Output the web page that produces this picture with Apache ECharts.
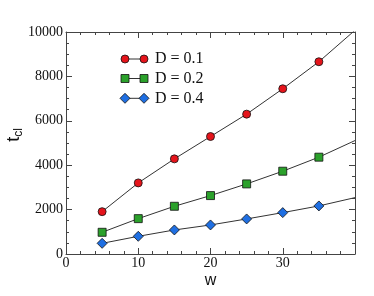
<!DOCTYPE html>
<html><head><meta charset="utf-8">
<script src="https://cdn.jsdelivr.net/npm/echarts@6/dist/echarts.min.js"></script>
<style>html,body{margin:0;padding:0;background:#fff}#c{width:374px;height:296px}</style>
</head><body><div id="c"></div>
<script>
const wValues = [5, 10, 15, 20, 25, 30, 35];
const wEnd = 40;
const seriesNames = ['D = 0.1', 'D = 0.2', 'D = 0.4'];
const tD01 = [1908, 3203, 4285, 5292, 6300, 7443, 8660];
const tD02 = [978, 1593, 2150, 2631, 3158, 3729, 4361];
const tD04 = [481, 797, 1083, 1308, 1579, 1864, 2165];
const endValues = [10080, 5110, 2540];
const xTicks = [0, 10, 20, 30];
const yTicks = [0, 2000, 4000, 6000, 8000, 10000];

const colors = ['#e5141b', '#2ba12b', '#1f6fe2'];
const symbols = ['circle', 'rect', 'diamond'];
const sizes = [8, 8, 10];
const allData = [tD01, tD02, tD04];

const chart = echarts.init(document.getElementById('c'));
const serif = '"Liberation Serif", "DejaVu Serif", serif';
const sans = '"Liberation Sans", Arial, sans-serif';

function mkData(vals, end) {
  const d = wValues.map((w, i) => [w, vals[i]]);
  d.push({ value: [wEnd, end], symbol: 'none' });
  return d;
}

const series = allData.map((vals, i) => ({
  name: seriesNames[i], type: 'line', data: mkData(vals, endValues[i]),
  symbol: symbols[i], symbolSize: sizes[i], showAllSymbol: true,
  lineStyle: { color: '#333', width: 1 },
  itemStyle: { color: colors[i], borderColor: '#111', borderWidth: 0.8 },
  clip: true, animation: false, z: 3 - i
}));

function axisLine() { return { show: true, onZero: false, lineStyle: { color: '#444', width: 1 } }; }
function tick() { return { show: true, inside: true, length: 6, lineStyle: { color: '#444', width: 1 } }; }
function minor(n) { return { show: true, splitNumber: n, length: 3, lineStyle: { color: '#444', width: 1 } }; }

const legendX0 = 125, legendX1 = 144, legendTextX = 155, legendY = [59, 78.5, 98.3];
const graphics = [];
legendY.forEach((y, i) => {
  graphics.push({ type: 'line', shape: { x1: legendX0, y1: y, x2: legendX1, y2: y }, style: { stroke: '#333', lineWidth: 1 } });
  [legendX0, legendX1].forEach(x => {
    let g;
    if (i === 0) g = { type: 'circle', shape: { cx: x, cy: y, r: 4 } };
    else if (i === 1) g = { type: 'rect', shape: { x: x - 4, y: y - 4, width: 8, height: 8 } };
    else g = { type: 'polygon', shape: { points: [[x, y - 5], [x + 5, y], [x, y + 5], [x - 5, y]] } };
    g.style = { fill: colors[i], stroke: '#111', lineWidth: 0.8 };
    graphics.push(g);
  });
  graphics.push({ type: 'text', x: legendTextX, y: y, style: { text: seriesNames[i], font: '16px ' + serif, fill: '#111', verticalAlign: 'middle' } });
});

chart.setOption({
  animation: false,
  grid: { left: 66, right: 19, top: 32, bottom: 42, containLabel: false, outerBoundsMode: 'none' },
  xAxis: [{
    type: 'value', min: 0, max: 40, interval: 10, position: 'bottom',
    name: 'w', nameLocation: 'middle', nameGap: 19, nameMoveOverlap: false,
    nameTextStyle: { fontFamily: sans, fontSize: 16, color: '#111', verticalAlign: 'top' },
    axisLine: axisLine(), axisTick: tick(), minorTick: minor(5),
    axisLabel: { fontFamily: serif, fontSize: 14, color: '#111', margin: 2,
      formatter: v => xTicks.includes(v) ? String(v) : '' },
    splitLine: { show: false }
  }, {
    type: 'value', position: 'top', min: 0, max: 40, interval: 10,
    axisLine: axisLine(), axisTick: tick(), minorTick: minor(5),
    axisLabel: { show: false }, splitLine: { show: false }
  }],
  yAxis: [{
    type: 'value', min: 0, max: 10000, interval: 2000, position: 'left',
    name: '{t|t}{s|cl}', nameLocation: 'middle', nameGap: 41, nameMoveOverlap: false,
    nameTextStyle: { padding: [0, 0, 0, 16], rich: { t: { fontFamily: sans, fontSize: 18, color: '#111' }, s: { fontFamily: sans, fontSize: 12, color: '#111', padding: [10, 0, 0, 0] } } },
    axisLine: axisLine(), axisTick: tick(), minorTick: minor(4),
    axisLabel: { fontFamily: serif, fontSize: 14, color: '#111', margin: 3,
      formatter: v => yTicks.includes(v) ? String(v) : '' },
    splitLine: { show: false }
  }, {
    type: 'value', position: 'right', min: 0, max: 10000, interval: 2000,
    axisLine: axisLine(), axisTick: tick(), minorTick: minor(4),
    axisLabel: { show: false }, splitLine: { show: false }
  }],
  series,
  graphic: graphics
});
</script></body></html>
